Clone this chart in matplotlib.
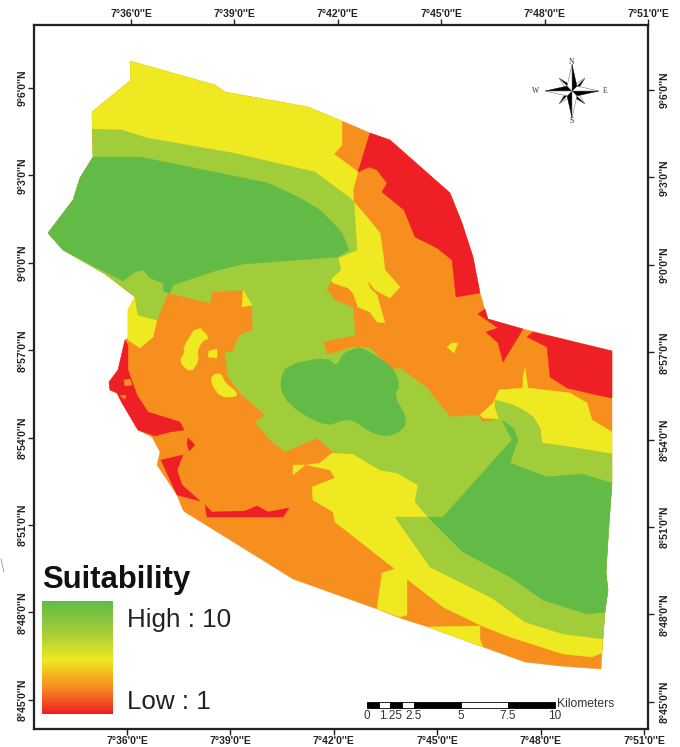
#!/usr/bin/python3
# Suitability map, vertices digitised from the scanned map and georeferenced below

import matplotlib
matplotlib.use("Agg")
import matplotlib.pyplot as plt
from matplotlib.colors import LinearSegmentedColormap
from matplotlib.lines import Line2D
import numpy as np

plt.rcParams['font.family'] = ['Liberation Sans', 'DejaVu Sans']

GREEN = "#62BB46"
LIGHT = "#A2CD3A"
YELLOW = "#EEE920"
ORANGE = "#F78F1E"
RED = "#EE1F25"

# digitised vertices (scan column, scan row)
outline = [(130,61),(215,85),(225,92),(308,107),(342,121),(370,133),(390,140),(450,193),(462,223),
           (473,257),(480,293),(485,310),(488,319),(523,329),(612,351),(612,430),(612,483),(608,533),
           (608,540),(606,573),(608,590),(605,612),(603,639),(602,653),(601,669),(560,666),(525,662),
           (483,647),(428,627),(400,618),(377,609),(293,579),(185,512),(183,510),(177,495),(157,465),
           (160,452),(152,437),(138,430),(122,403),(117,393),(110,390),(109,382),(118,370),(125,340),
           (128,338),(128,310),(135,297),(105,274),(63,250),(48,233),(73,200),(80,178),(93,157),
           (92,112),(131,80)]
yellow_north = [(92,112),(131,80),(130,61),(215,85),(225,92),(308,107),(342,121),(342,145),(334,154),
                (358,172),(353,190),(354,202),(367,217),(380,233),(383,253),(385,270),(400,287),(390,298),
                (375,290),(367,280),(370,288),(377,295),(385,323),(377,322),(370,312),(358,307),(353,293),
                (348,288),(333,283),(330,279),(332,278),(330,200),(92,129)]
yellow_west = [(135,297),(138,315),(157,320),(153,337),(140,348),(128,340),(128,310)]
yellow_east = [(480,415),(493,403),(499,390),(523,388),(523,377),(525,368),(528,388),(570,393),(587,403),
               (592,420),(612,432),(612,454),(570,447),(542,443),(540,428),(533,417),(513,405),(495,400),
               (495,407),(499,419),(483,418)]
yellow_south = [(332,453),(320,463),(307,465),(330,470),(335,478),(312,487),(313,500),(333,512),(335,522),
                (395,569),(382,573),(377,609),(400,617),(407,615),(407,579),(443,607),(482,626),(510,637),
                (563,654),(592,657),(602,653),(603,630),(563,625),(525,610),(430,555),(440,480),(380,455),
                (353,454)]
yellow_tri = [(428,627),(480,626),(480,640),(483,647)]
light_main = [(92,129),(122,130),(147,138),(233,153),(315,172),(350,198),(354,202),(357,250),(338,258),
              (341,270),(332,278),(327,290),(335,300),(353,308),(355,335),(323,342),(327,355),(353,347),
              (370,348),(392,370),(400,368),(427,388),(450,417),(478,415),(483,422),(499,419),(495,407),
              (495,400),(513,405),(525,411),(533,417),(540,428),(542,443),(570,447),(612,454),(612,483),
              (608,540),(606,573),(608,590),(605,612),(603,639),(563,634),(525,622),(492,598),(430,567),
              (395,517),(428,517),(415,502),(418,485),(397,473),(380,470),(353,454),(333,452),(317,438),
              (285,452),(270,440),(255,422),(265,415),(240,393),(228,377),(225,352),(233,352),(235,345),
              (240,335),(253,330),(252,307),(243,290),(212,292),(210,303),(168,293),(157,320),(138,315),
              (135,297),(105,274),(63,250),(48,233),(73,200),(80,178),(93,157)]
green_nw = [(93,157),(140,157),(268,183),(300,198),(320,210),(335,225),(342,233),(349,250),(338,257),
            (243,264),(215,271),(173,285),(170,293),(164,292),(163,283),(150,278),(143,270),(135,272),
            (123,281),(107,273),(63,250),(48,233),(73,200),(80,178)]
green_lake = [(287,365),(327,357),(337,367),(343,353),(357,348),(362,348),(378,357),(393,368),(400,385),
              (394,396),(407,418),(403,430),(387,437),(370,432),(353,420),(343,420),(327,426),(300,413),
              (283,397),(280,380)]
green_se = [(502,420),(513,428),(518,440),(510,463),(547,477),(582,474),(612,483),(608,540),(606,573),
            (608,590),(605,612),(587,614),(543,600),(510,577),(463,552),(428,517),(443,517),(512,440)]
red_ne = [(370,133),(390,140),(450,193),(462,223),(473,257),(480,293),(456,297),(452,260),(437,248),
          (415,237),(404,210),(382,192),(387,183),(377,170),(369,167),(358,172)]
red_e = [(527,337),(533,332),(612,351),(612,398),(597,395),(567,388),(550,377),(547,347)]
red_mid = [(478,314),(485,309),(488,319),(523,329),(503,362),(498,343),(486,332),(498,328),(488,321)]
red_w = [(125,340),(128,345),(128,370),(137,395),(148,412),(180,422),(184,430),(170,432),(155,436),
         (138,430),(122,403),(117,393),(110,390),(109,382),(118,370)]
red_diamond = [(188,438),(195,445),(189,451),(187,443)]
red_crescent = [(161,460),(183,455),(177,470),(182,485),(200,501),(177,495)]
red_bottom = [(205,505),(212,512),(245,511),(257,506),(268,512),(289,508),(283,517),(207,517)]
speck_a = [(124,380),(130,379),(132,385),(125,386)]
speck_b = [(120,396),(126,395),(125,399)]
blob_a = [(197,325),(210,338),(202,341),(197,352),(199,360),(191,373),(179,362),(185,352),(183,348)]
blob_b = [(209,351),(217,349),(217,358),(208,357)]
blob_c = [(212,375),(221,373),(225,383),(237,392),(236,397),(220,397),(211,383)]
blob_d = [(447,347),(452,343),(458,343),(454,353)]
blob_e = [(243,290),(252,305),(242,307)]
blob_f = [(293,465),(305,465),(293,475)]

# (vertices, colour, round the corners)
layers = [(outline, ORANGE, False), (yellow_north, YELLOW, False), (yellow_west, YELLOW, False),
          (yellow_east, YELLOW, False), (yellow_south, YELLOW, False), (yellow_tri, YELLOW, False),
          (light_main, LIGHT, False), (green_nw, GREEN, False), (green_lake, GREEN, True),
          (green_se, GREEN, False), (red_ne, RED, False), (red_e, RED, False), (red_mid, RED, False),
          (red_w, RED, False), (red_diamond, RED, False), (red_crescent, RED, False),
          (red_bottom, RED, False), (speck_a, ORANGE, False), (speck_b, ORANGE, False),
          (blob_a, YELLOW, True), (blob_b, YELLOW, False), (blob_c, YELLOW, True),
          (blob_d, YELLOW, False), (blob_e, YELLOW, False), (blob_f, YELLOW, False)]

lon_ticks = [7.6, 7.65, 7.7, 7.75, 7.8, 7.85]
lon_labels = ["7°36'0''E", "7°39'0''E", "7°42'0''E", "7°45'0''E", "7°48'0''E", "7°51'0''E"]
lat_ticks = [9.1, 9.05, 9.0, 8.95, 8.9, 8.85, 8.8, 8.75]
lat_labels = ["9°6'0''N", "9°3'0''N", "9°0'0''N", "8°57'0''N", "8°54'0''N", "8°51'0''N", "8°48'0''N", "8°45'0''N"]

scale_km = [0, 0.625, 1.25, 1.875, 2.5, 5, 7.5, 10]
scale_labels = ["0", "1.25", "2.5", "5", "7.5", "10"]
scale_label_km = [0, 1.25, 2.5, 5, 7.5, 10]
legend_colors = [GREEN, LIGHT, YELLOW, ORANGE, RED]
legend_stops = [0, 0.27, 0.52, 0.76, 1]


# georeference from the graticule ticks
def to_lon(col):
    return 7.6 + (np.asarray(col, dtype=float) - 127) / 103.4 * 0.05


def to_lat(row):
    return 9.1 - (np.asarray(row, dtype=float) - 88) / 87.4 * 0.05


def geo(points):
    pts = np.array(points, dtype=float)
    return to_lon(pts[:, 0]), to_lat(pts[:, 1])


def rounded(points):
    # one corner cutting pass
    pts = np.array(points, dtype=float)
    nxt = np.roll(pts, -1, axis=0)
    out = np.empty((len(pts) * 2, 2))
    out[0::2] = 0.75 * pts + 0.25 * nxt
    out[1::2] = 0.25 * pts + 0.75 * nxt
    return out


W, H = 680, 747
L, R, T, B = 34, 648, 25, 729
fig = plt.figure(figsize=(W / 100, H / 100), dpi=100)
ax = fig.add_axes([L / W, 1 - B / H, (R - L) / W, (B - T) / H])
ax.set_xlim(to_lon(L), to_lon(R))
ax.set_ylim(to_lat(B), to_lat(T))

for points, color, smooth in layers:
    xs, ys = geo(rounded(points) if smooth else points)
    ax.fill(xs, ys, color=color, lw=0.3, zorder=2)

tick_font = dict(fontsize=7.5, fontweight='bold', color="#222222")
ax.set_xticks(lon_ticks, lon_labels, **tick_font)
ax.set_yticks(lat_ticks, lat_labels, rotation=90, va='center', **tick_font)
ax.tick_params(axis='x', length=4.2, width=1.0, color="#222222", pad=1)
ax.tick_params(axis='y', length=4.2, width=1.0, color="#222222", pad=0.5)

# the scan is slightly skewed, so top and right ticks sit a little off the others
top = ax.twiny()
top.set_xlim(to_lon(L - 4), to_lon(R - 4))
top.set_xticks(lon_ticks, lon_labels, **tick_font)
top.tick_params(length=4.2, width=1.0, color="#222222", pad=0.2)
right = ax.twinx()
right.set_ylim(to_lat(B - 2), to_lat(T - 2))
right.set_yticks(lat_ticks, lat_labels, rotation=90, va='center', **tick_font)
right.tick_params(length=4.2, width=1.0, color="#222222", pad=4.5)
for a in (ax, top, right):
    for s in a.spines.values():
        s.set_linewidth(1.5)
        s.set_color("#222222")

# legend
cmap = LinearSegmentedColormap.from_list("suit", list(zip(legend_stops, legend_colors)))
ramp = np.linspace(0, 1, 256).reshape(-1, 1)
ax.imshow(ramp, cmap=cmap, aspect='auto', zorder=3, origin='upper',
          extent=(to_lon(42), to_lon(113), to_lat(714), to_lat(602)))
ax.set_xlim(to_lon(L), to_lon(R))
ax.set_ylim(to_lat(B), to_lat(T))
ax.text(to_lon(42), to_lat(580), "Suitability", fontsize=22.3, fontweight='bold', color="#111111",
        va='center', ha='left', zorder=4)
ax.text(to_lon(127), to_lat(620), "High : 10", fontsize=18.7, color="#222222", va='center', ha='left', zorder=4)
ax.text(to_lon(127), to_lat(702), "Low : 1", fontsize=18.7, color="#222222", va='center', ha='left', zorder=4)

# scale bar, 10 km is 188 scan columns
def km_col(km):
    return 367 + np.asarray(km, dtype=float) * 18.8


for i in range(len(scale_km) - 1):
    x0, x1 = to_lon(km_col(scale_km[i])), to_lon(km_col(scale_km[i + 1]))
    ax.fill_between([x0, x1], to_lat(707.5), to_lat(702), facecolor="black" if i % 2 == 0 else "white",
                    edgecolor="black", lw=0.6, zorder=4)
for km, lab in zip(scale_label_km, scale_labels):
    ax.text(to_lon(km_col(km)), to_lat(716), lab, fontsize=8.5, color="#333333", ha='center', va='center', zorder=4)
ax.text(to_lon(557), to_lat(704), "Kilometers", fontsize=8.7, color="#333333", ha='left', va='center', zorder=4)

# north arrow
cx, cy = 572, 91
for ang, size, base in [(45, 18, 5), (0, 27, 7)]:
    for k in range(4):
        th = np.deg2rad(ang + 90 * k)
        ux, uy = np.cos(th), np.sin(th)
        px, py = -uy, ux
        tip = (cx + size * ux, cy + size * uy)
        side1 = (cx + base * (ux + px) * 0.7, cy + base * (uy + py) * 0.7)
        side2 = (cx + base * (ux - px) * 0.7, cy + base * (uy - py) * 0.7)
        xs, ys = geo([(cx, cy), tip, side1])
        ax.fill(xs, ys, facecolor="black", edgecolor="black", lw=0.3, zorder=5)
        xs, ys = geo([(cx, cy), tip, side2])
        ax.fill(xs, ys, facecolor="white", edgecolor="#777777", lw=0.4, zorder=5)
compass = dict(fontsize=5.5, family='Liberation Serif', color="#333333", ha='center', va='center', zorder=5)
ax.text(to_lon(572), to_lat(62), "N", **compass)
ax.text(to_lon(572), to_lat(121), "S", **compass)
ax.text(to_lon(536), to_lat(91), "W", **compass)
ax.text(to_lon(605), to_lat(91), "E", **compass)

# stray pen mark in the scan margin
fig.add_artist(Line2D([1 / W, 4 / W], [1 - 559 / H, 1 - 572 / H], color="#999999", lw=0.6))

fig.savefig("out.png", dpi=100)
